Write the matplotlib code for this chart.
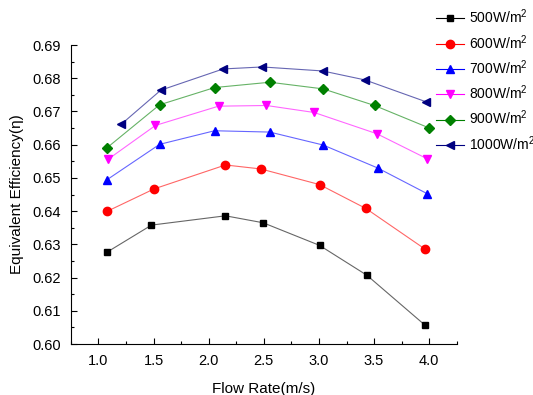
import numpy as np
import matplotlib
matplotlib.use('Agg')
import matplotlib.pyplot as plt
from matplotlib.ticker import MultipleLocator

plt.rcParams['font.family'] = ['Liberation Sans', 'DejaVu Sans']
plt.rcParams['mathtext.fontset'] = 'custom'
plt.rcParams['mathtext.rm'] = 'Liberation Sans'
plt.rcParams['mathtext.it'] = 'Liberation Sans:italic'

labels = ['500W/m$^2$', '600W/m$^2$', '700W/m$^2$', '800W/m$^2$', '900W/m$^2$', '1000W/m$^2$']

x500 = [1.075, 1.481, 2.152, 2.494, 3.005, 3.435, 3.961]
y500 = [0.6276, 0.6358, 0.6386, 0.6365, 0.6297, 0.6207, 0.6057]
x600 = [1.082, 1.505, 2.152, 2.473, 3.005, 3.426, 3.961]
y600 = [0.6400, 0.6467, 0.6539, 0.6527, 0.6480, 0.6408, 0.6286]
x700 = [1.075, 1.554, 2.053, 2.554, 3.038, 3.532, 3.979]
y700 = [0.6494, 0.6601, 0.6642, 0.6638, 0.6599, 0.6530, 0.6453]
x800 = [1.091, 1.517, 2.089, 2.524, 2.956, 3.525, 3.979]
y800 = [0.6557, 0.6658, 0.6716, 0.6718, 0.6697, 0.6633, 0.6558]
x900 = [1.075, 1.554, 2.053, 2.554, 3.038, 3.504, 3.995]
y900 = [0.6590, 0.6720, 0.6772, 0.6788, 0.6768, 0.6718, 0.6651]
x1000 = [1.205, 1.565, 2.131, 2.485, 3.033, 3.417, 3.973]
y1000 = [0.6661, 0.6764, 0.6828, 0.6834, 0.6822, 0.6795, 0.6729]

xs = [x500, x600, x700, x800, x900, x1000]
ys = [y500, y600, y700, y800, y900, y1000]
colors = ['black', 'red', 'blue', 'magenta', 'green', 'navy']
markers = ['s', 'o', '^', 'v', 'D', '<']
msizes = [5, 6, 6, 6, 5, 6]

fig = plt.figure(figsize=(5.33, 3.95), dpi=100)
ax = fig.add_axes([0.133, 0.129, 0.724, 0.757])

for x, y, c, m, ms, lab in zip(xs, ys, colors, markers, msizes, labels):
    ax.plot(x, y, '-', color=c, alpha=0.6, lw=0.8)
    ax.plot(x, y, linestyle='none', marker=m, color=c, markersize=ms)
    # legend proxy
    ax.plot([], [], '-', color=c, lw=0.8, marker=m, markersize=ms,
            markerfacecolor=c, markeredgecolor=c, label=lab)

ax.set_xlim(0.75, 4.25)
ax.set_ylim(0.60, 0.69)
ax.xaxis.set_major_locator(MultipleLocator(0.5))
ax.xaxis.set_minor_locator(MultipleLocator(0.25))
ax.yaxis.set_major_locator(MultipleLocator(0.01))
ax.yaxis.set_minor_locator(MultipleLocator(0.005))
ax.yaxis.set_major_formatter(plt.FormatStrFormatter('%.2f'))
ax.xaxis.set_major_formatter(plt.FormatStrFormatter('%.1f'))
ax.tick_params(which='major', direction='in', length=4, width=0.8, labelsize=10.5, pad=7)
ax.tick_params(which='minor', direction='in', length=2, width=0.8)
ax.spines['top'].set_visible(False)
ax.spines['right'].set_visible(False)

ax.set_xlabel('Flow Rate(m/s)', fontsize=11, labelpad=10)
ax.set_ylabel('Equivalent Efficiency(η)', fontsize=11, labelpad=6)

handles, labs = ax.get_legend_handles_labels()
fig.legend(handles, labs, loc='upper left', bbox_to_anchor=(0.8, 1.005),
           frameon=False, fontsize=10, handlelength=2.0, handletextpad=0.4,
           labelspacing=0.48, borderaxespad=0.3)

fig.savefig('out.png', dpi=100)
